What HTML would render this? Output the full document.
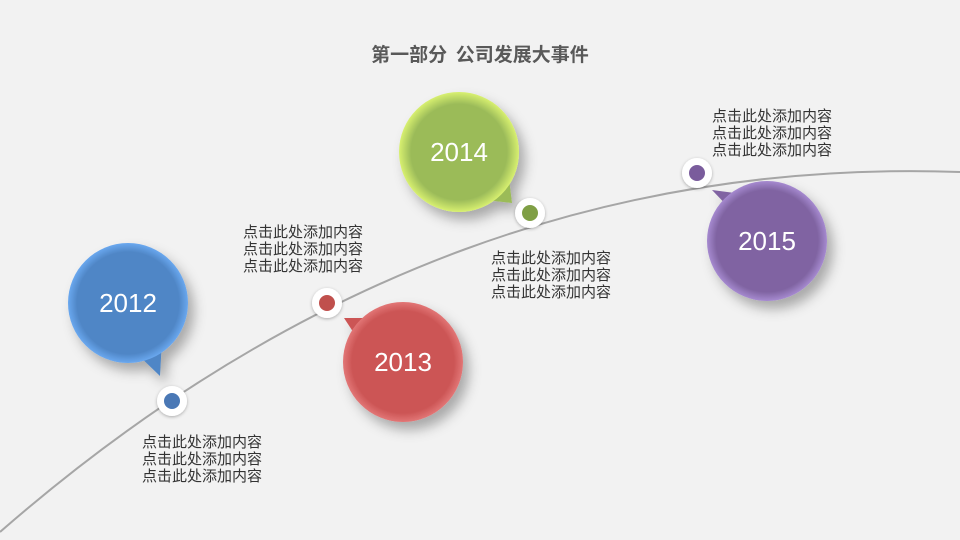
<!DOCTYPE html>
<html><head><meta charset="utf-8"><style>
body{margin:0;width:960px;height:540px;background:#f2f2f2;overflow:hidden;font-family:"Liberation Sans","Noto Sans CJK SC",sans-serif;}
.t{position:absolute;font-size:15px;line-height:17px;color:#333;white-space:nowrap;font-family:"Noto Sans CJK SC",sans-serif}
</style></head><body>
<svg width="960" height="540" style="position:absolute;left:0;top:0">
<defs>
<filter id="sh" x="-40%" y="-40%" width="180%" height="180%"><feDropShadow dx="6" dy="8" stdDeviation="6" flood-color="#000" flood-opacity="0.3"/></filter>
<filter id="ds" x="-50%" y="-50%" width="200%" height="200%"><feDropShadow dx="0" dy="1" stdDeviation="1.5" flood-color="#000" flood-opacity="0.3"/></filter>
<radialGradient id="gb" cx="50%" cy="50%" r="50%"><stop offset="85%" stop-color="#4f86c6"/><stop offset="100%" stop-color="#6aa8ef"/></radialGradient>
<radialGradient id="gr" cx="50%" cy="50%" r="50%"><stop offset="85%" stop-color="#cc5555"/><stop offset="100%" stop-color="#e27676"/></radialGradient>
<radialGradient id="gg" cx="50%" cy="50%" r="50%"><stop offset="80%" stop-color="#9bbb59"/><stop offset="100%" stop-color="#d8f070"/></radialGradient>
<radialGradient id="gp" cx="50%" cy="50%" r="50%"><stop offset="85%" stop-color="#8064a2"/><stop offset="100%" stop-color="#a68ad0"/></radialGradient>
</defs>
<path d="M0 532 C300 270 620 160 960 172" fill="none" stroke="#a6a6a6" stroke-width="2"/>
<g filter="url(#sh)">
<path d="M135 352 L160 376 L162 340 Z" fill="#4f86c6"/><circle cx="128" cy="303" r="60" fill="url(#gb)"/>
<path d="M385 318 L344 318 L365 350 Z" fill="#cc5555"/><circle cx="403" cy="362" r="60" fill="url(#gr)"/>
<path d="M485 200 L512 203 L508 170 Z" fill="#9bbb59"/><circle cx="459" cy="152" r="60" fill="url(#gg)"/>
<path d="M735 214 L712 190 L750 195 Z" fill="#8064a2"/><circle cx="767" cy="241" r="60" fill="url(#gp)"/>
</g>
<g font-family="Liberation Sans, sans-serif" font-size="26" fill="#fff" text-anchor="middle">
<text x="128" y="312">2012</text><text x="403" y="371">2013</text><text x="459" y="161">2014</text><text x="767" y="250">2015</text>
</g>
<g filter="url(#ds)">
<circle cx="172" cy="401" r="15" fill="#fff"/><circle cx="327" cy="303" r="15" fill="#fff"/><circle cx="530" cy="213" r="15" fill="#fff"/><circle cx="697" cy="173" r="15" fill="#fff"/>
</g>
<circle cx="172" cy="401" r="8" fill="#4a78b5"/><circle cx="327" cy="303" r="8" fill="#c0504d"/><circle cx="530" cy="213" r="8" fill="#7f9f45"/><circle cx="697" cy="173" r="8" fill="#7a5c9c"/>
</svg>
<div style="position:absolute;left:0;width:960px;top:40px;text-align:center;font-size:19px;font-weight:bold;color:#595959;font-family:'Noto Sans CJK SC',sans-serif">第一部分&nbsp;&nbsp;公司发展大事件</div>
<div class="t" style="left:142px;top:433px">点击此处添加内容<br>点击此处添加内容<br>点击此处添加内容</div>
<div class="t" style="left:243px;top:223px">点击此处添加内容<br>点击此处添加内容<br>点击此处添加内容</div>
<div class="t" style="left:491px;top:249px">点击此处添加内容<br>点击此处添加内容<br>点击此处添加内容</div>
<div class="t" style="left:712px;top:107px">点击此处添加内容<br>点击此处添加内容<br>点击此处添加内容</div>
</body></html>
